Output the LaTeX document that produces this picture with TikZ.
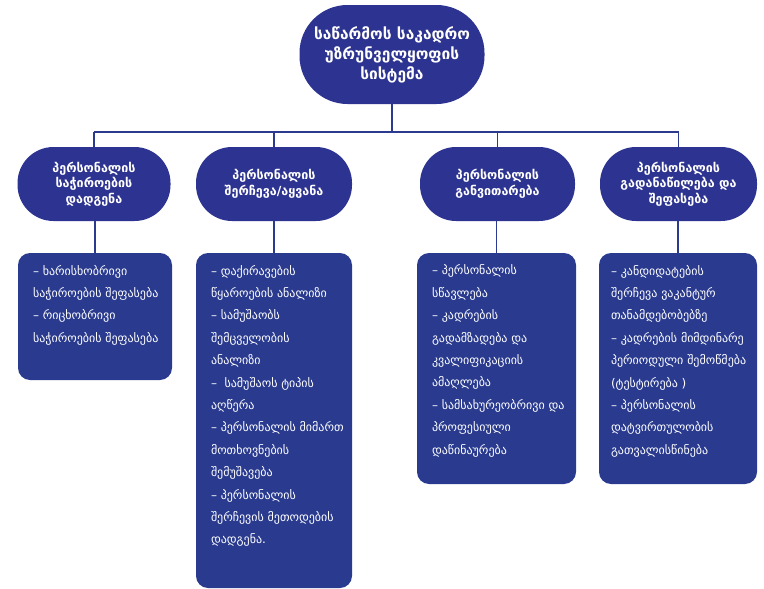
\documentclass[tikz,border=0pt]{standalone}
\usepackage{fontspec}
\setmainfont{DejaVu Sans}
\definecolor{pillblue}{HTML}{2D3390}
\definecolor{boxblue}{HTML}{293A8F}
\definecolor{lineblue}{HTML}{2B3A8E}
\begin{document}
\begin{tikzpicture}[x=1pt,y=-1pt,
  pill/.style={fill=pillblue, draw=none, rounded corners=36pt, text=white, align=center,
    font=\fontsize{12.5}{15.5}\selectfont\bfseries, inner sep=0pt},
  toppill/.style={fill=pillblue, draw=none, rounded corners=48pt, text=white, align=center,
    font=\fontsize{15.5}{20}\selectfont\bfseries, inner sep=0pt},
  listbox/.style={fill=boxblue, draw=none, rounded corners=12pt, inner sep=0pt},
  listtext/.style={text=white, align=left, anchor=north west, inner sep=0pt,
    font=\fontsize{12}{22.4}\selectfont},
  conn/.style={draw=lineblue, line width=1.3pt}]
\useasboundingbox (0,0) rectangle (764,589);

\node[toppill, minimum width=185pt, minimum height=99pt] (top) at (392,54.5)
  {საწარმოს საკადრო\\უზრუნველყოფის\\სისტემა};

\node[pill, minimum width=153pt, minimum height=74pt] (h1) at (94,184)
  {პერსონალის\\საჭიროების\\დადგენა};
\node[pill, minimum width=156pt, minimum height=74pt] (h2) at (274,184)
  {პერსონალის\\შერჩევა/აყვანა};
\node[pill, minimum width=155pt, minimum height=74pt] (h3) at (497.5,184)
  {პერსონალის\\განვითარება};
\node[pill, minimum width=157pt, minimum height=74pt] (h4) at (678.5,184)
  {პერსონალის\\გადანაწილება და\\შეფასება};

\node[listbox, minimum width=154pt, minimum height=127pt] (b1) at (95,316.5) {};
\node[listbox, minimum width=156pt, minimum height=335pt] (b2) at (274,420.5) {};
\node[listbox, minimum width=159pt, minimum height=231pt] (b3) at (496.5,368.5) {};
\node[listbox, minimum width=158pt, minimum height=231pt] (b4) at (678,368.5) {};

\node[listtext] (t1) at ([xshift=15pt,yshift=-12pt]b1.north west)
  {– ხარისხობრივი\\საჭიროების შეფასება\\– რიცხობრივი\\საჭიროების შეფასება};
\node[listtext] (t2) at ([xshift=15pt,yshift=-12pt]b2.north west)
  {– დაქირავების\\წყაროების ანალიზი\\– სამუშაობს\\შემცველობის\\ანალიზი\\–\ \ სამუშაოს ტიპის\\აღწერა\\– პერსონალის მიმართ\\მოთხოვნების\\შემუშავება\\– პერსონალის\\შერჩევის მეთოდების\\დადგენა.};
\node[listtext] (t3) at ([xshift=15pt,yshift=-12pt]b3.north west)
  {– პერსონალის\\სწავლება\\– კადრების\\გადამზადება და\\კვალიფიკაციის\\ამაღლება\\– სამსახურეობრივი და\\პროფესიული\\დაწინაურება};
\node[listtext] (t4) at ([xshift=12pt,yshift=-12pt]b4.north west)
  {– კანდიდატების\\შერჩევა ვაკანტურ\\თანამდებობებზე\\– კადრების მიმდინარე\\პერიოდული შემოწმება\\(ტესტირება )\\– პერსონალის\\დატვირთულობის\\გათვალისწინება};

\coordinate (bus) at (392,132);
\draw[conn] (top.south) -- (bus);
\draw[conn] (h1.north |- bus) -- (h4.north |- bus);
\draw[conn] (h1.north |- bus) -- (h1.north);
\draw[conn] (h2.north |- bus) -- (h2.north);
\draw[conn] (h3.north |- bus) -- (h3.north);
\draw[conn] (h4.north |- bus) -- (h4.north);
\draw[conn] (h1.south -| b1.north) -- (b1.north);
\draw[conn] (h2.south) -- (b2.north);
\draw[conn] (h3.south -| b3.north) -- (b3.north);
\draw[conn] (h4.south -| b4.north) -- (b4.north);
\end{tikzpicture}
\end{document}
